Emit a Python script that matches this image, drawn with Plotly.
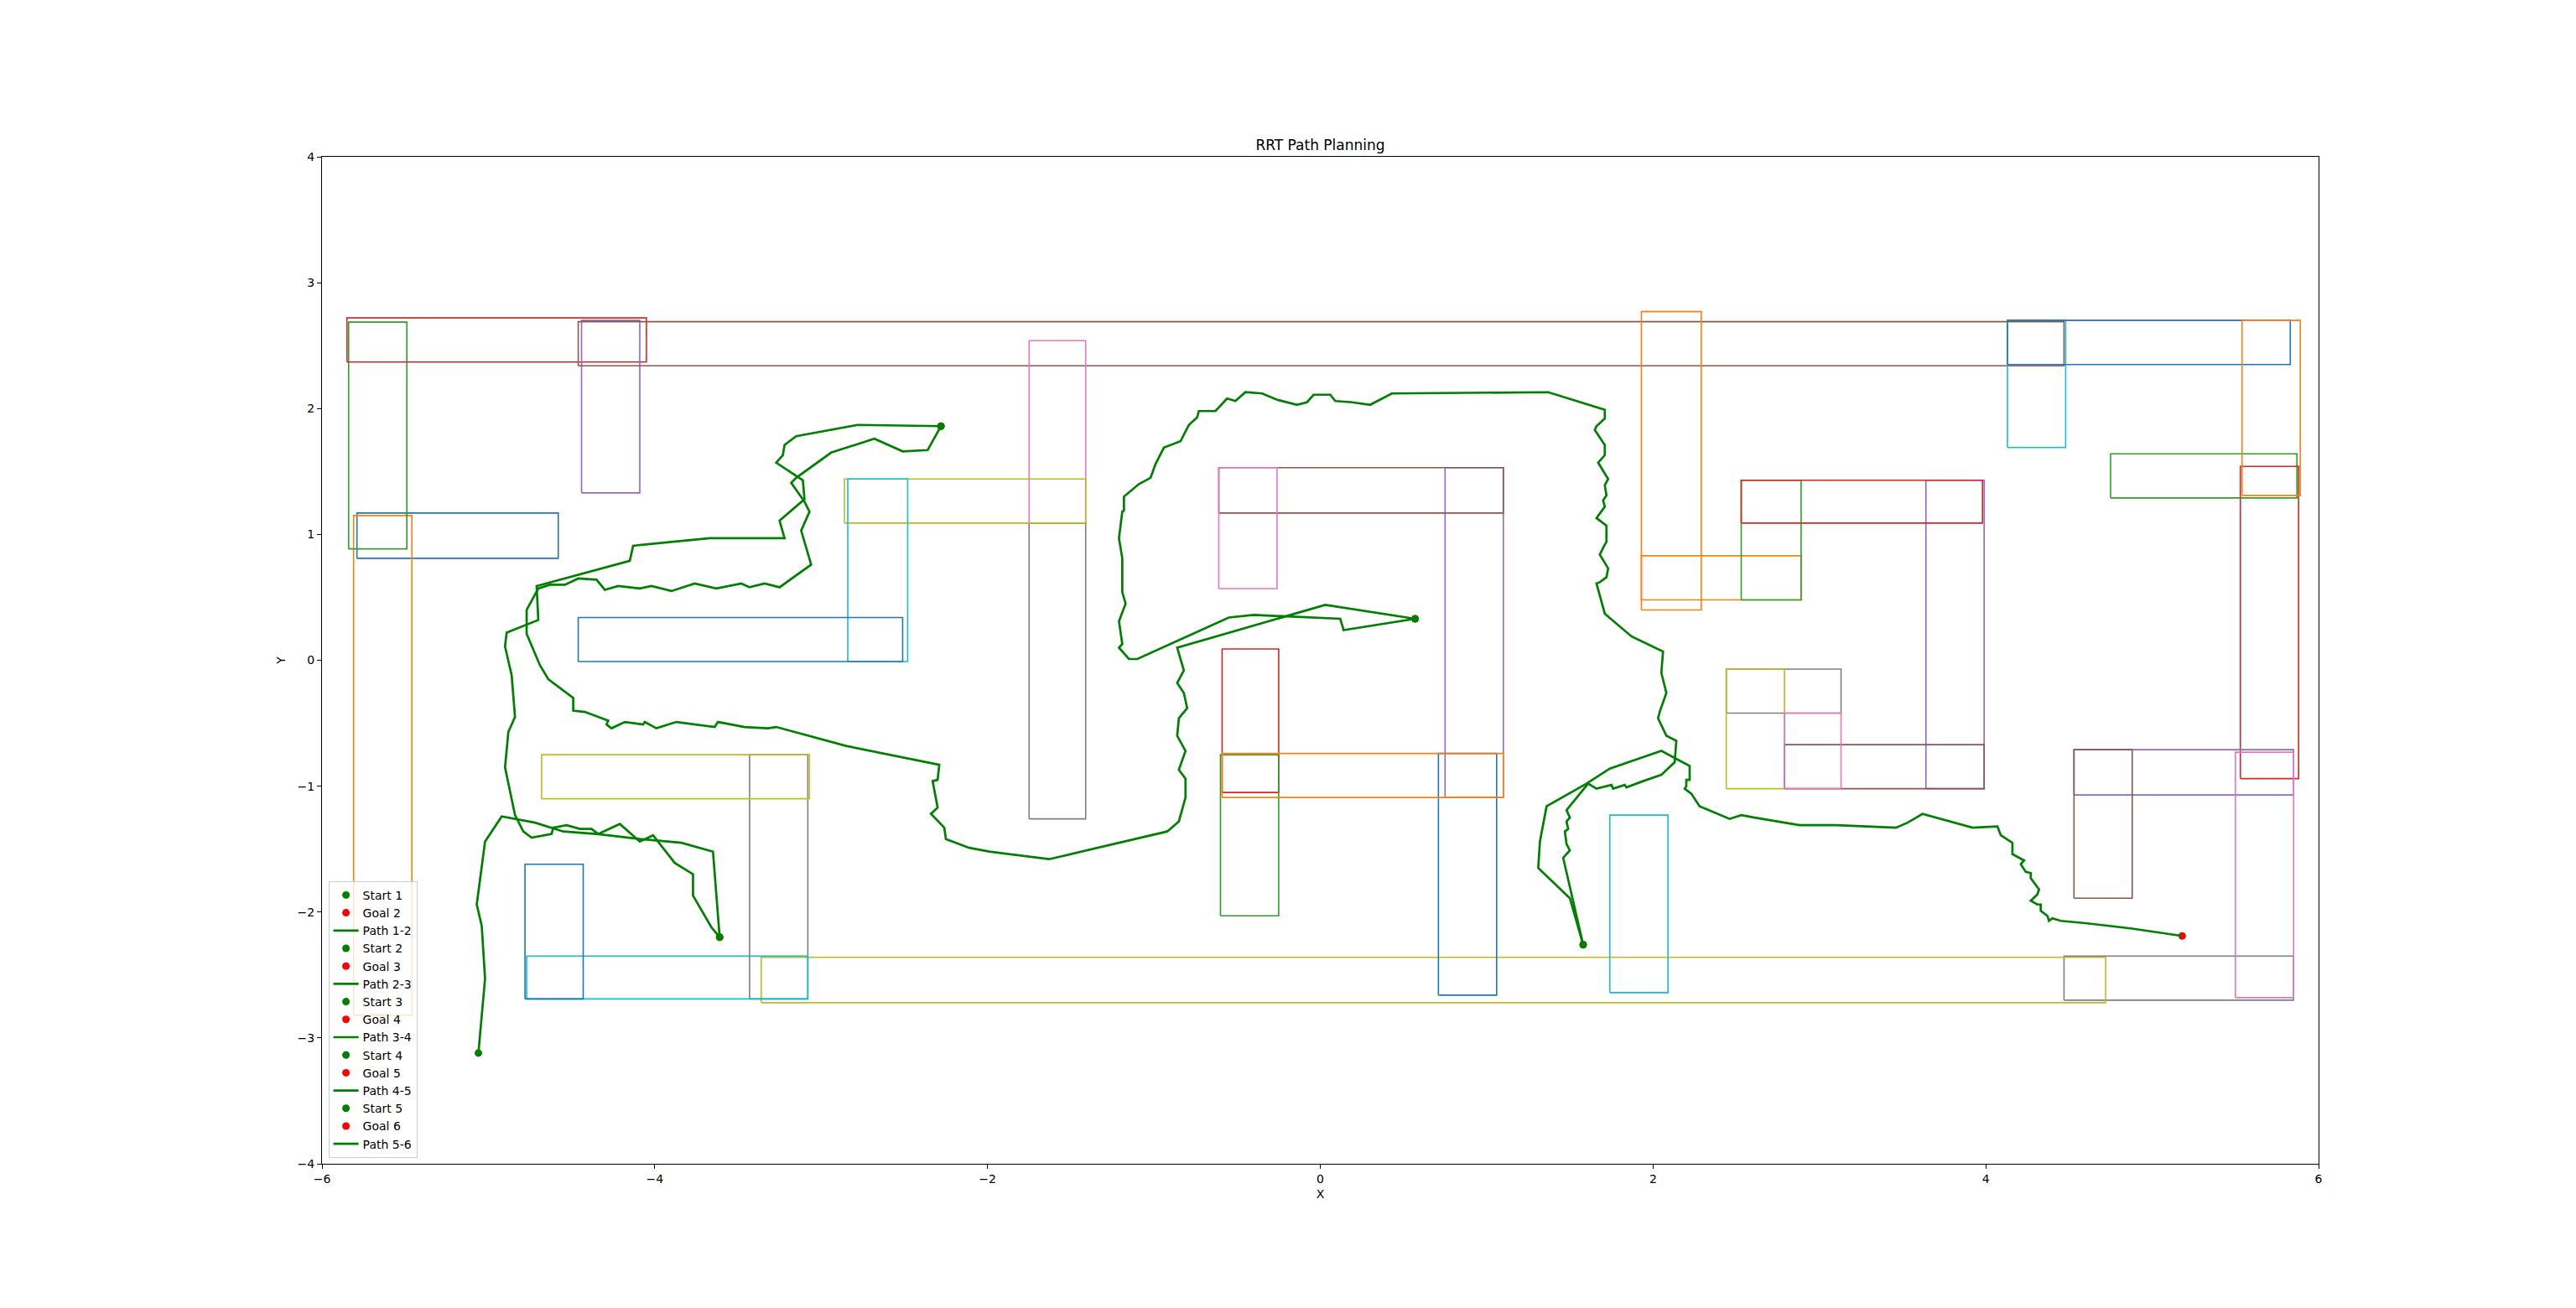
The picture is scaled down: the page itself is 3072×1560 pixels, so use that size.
import plotly.graph_objects as go

# ---------------- data ----------------
# obstacles (axis-aligned rectangles), listed in drawing order
obs_x0 = [-5.79, -5.81, -5.84, -5.85, -4.44, -4.46, -1.75, -1.75, -2.86, -2.84,
          -4.46, 1.93, 4.75, -0.59, 0.75, -0.61, -0.61, 2.44, 2.44, 4.13,
          4.13, 1.93, 2.53, 5.53, 3.64, 2.79, 2.79, 4.47, -3.36, 1.74,
          0.71, 5.54, -0.60, 2.53, 4.53, 4.53, 5.50, -3.43, -4.68, -4.77,
          -4.78, -0.59]
obs_x1 = [-4.58, -5.46, -5.49, -4.05, -4.09, 4.47, -1.41, -1.41, -1.41, -2.48,
          -2.51, 2.29, 5.87, -0.25, 1.10, 1.10, -0.26, 3.13, 2.79, 4.48,
          5.83, 2.89, 2.89, 5.88, 3.99, 3.99, 3.13, 5.85, 4.72, 2.09,
          1.06, 5.89, -0.25, 3.98, 5.85, 4.88, 5.85, -3.08, -3.07, -3.08,
          -4.43, 1.10]
obs_y0 = [0.81, -2.82, 0.885, 2.37, 1.33, 2.34, 1.09, -1.26, 1.09, -0.01,
          -0.01, 0.40, 1.29, -1.05, -1.09, 1.17, 0.57, -0.42, -1.02, 1.69,
          2.35, 0.48, 0.48, -0.94, -1.02, -1.02, -1.02, -2.70, -2.72, -2.64,
          -2.66, 1.31, -2.03, 1.09, -1.07, -1.89, -2.68, -2.69, -1.10, -2.69,
          -2.69, -1.09]
obs_y1 = [1.17, 1.15, 2.687, 2.72, 2.70, 2.69, 2.54, 1.09, 1.44, 1.44,
          0.34, 2.77, 1.64, 0.09, 1.53, 1.53, 1.53, -0.07, -0.07, 2.70,
          2.70, 0.83, 1.43, 1.54, 1.43, -0.67, -0.42, -2.35, -2.36, -1.23,
          -0.74, 2.70, -0.75, 1.43, -0.71, -0.71, -0.73, -0.75, -0.75, -2.35,
          -1.62, -0.74]

# waypoints: Start i / Goal i at P_i
wp_x = [-5.06, -3.61, -2.28, 0.57, 1.58, 5.18]
wp_y = [-3.12, -2.20, 1.86, 0.33, -2.26, -2.19]

path_1_2 = [(-5.06, -3.12), (-5.02, -2.53), (-5.04, -2.11), (-5.07, -1.94), (-5.02, -1.44),
            (-4.92, -1.24), (-4.72, -1.29), (-4.55, -1.36), (-4.35, -1.38), (-4.09, -1.42),
            (-3.84, -1.45), (-3.65, -1.52), (-3.61, -2.20)]

path_2_3 = [(-3.61, -2.20), (-3.66, -2.12), (-3.77, -1.87), (-3.77, -1.70), (-3.88, -1.61),
            (-4.01, -1.39), (-4.09, -1.44), (-4.21, -1.30), (-4.34, -1.38), (-4.38, -1.34),
            (-4.45, -1.34), (-4.53, -1.31), (-4.61, -1.33), (-4.62, -1.38), (-4.74, -1.41),
            (-4.79, -1.36), (-4.84, -1.23), (-4.90, -0.85), (-4.88, -0.57), (-4.84, -0.45),
            (-4.86, -0.12), (-4.90, 0.11), (-4.89, 0.22), (-4.70, 0.32), (-4.71, 0.59),
            (-4.15, 0.79), (-4.13, 0.91), (-3.67, 0.97), (-3.40, 0.97), (-3.22, 0.97),
            (-3.25, 1.11), (-3.10, 1.28), (-3.11, 1.43), (-3.27, 1.57), (-3.23, 1.63),
            (-3.22, 1.71), (-3.15, 1.78), (-2.78, 1.87), (-2.28, 1.86)]

path_3_4 = [(-2.28, 1.86), (-2.36, 1.67), (-2.51, 1.66), (-2.68, 1.76), (-2.94, 1.65),
            (-3.15, 1.45), (-3.18, 1.41), (-3.10, 1.26), (-3.07, 1.18), (-3.12, 1.03),
            (-3.06, 0.76), (-3.25, 0.58), (-3.34, 0.61), (-3.43, 0.58), (-3.48, 0.61),
            (-3.63, 0.57), (-3.76, 0.61), (-3.90, 0.55), (-4.02, 0.59), (-4.09, 0.57),
            (-4.22, 0.59), (-4.30, 0.56), (-4.35, 0.64), (-4.46, 0.65), (-4.54, 0.60),
            (-4.63, 0.60), (-4.70, 0.57), (-4.77, 0.40), (-4.77, 0.21), (-4.69, -0.04),
            (-4.64, -0.15), (-4.49, -0.30), (-4.49, -0.40), (-4.42, -0.41), (-4.28, -0.48),
            (-4.29, -0.51), (-4.26, -0.54), (-4.18, -0.49), (-4.07, -0.51), (-4.06, -0.49),
            (-3.99, -0.54), (-3.87, -0.49), (-3.64, -0.53), (-3.62, -0.49), (-3.46, -0.53),
            (-3.32, -0.54), (-3.27, -0.53), (-2.85, -0.68), (-2.29, -0.83), (-2.30, -0.95),
            (-2.33, -0.96), (-2.30, -1.17), (-2.34, -1.22), (-2.26, -1.33), (-2.25, -1.42),
            (-2.11, -1.49), (-1.99, -1.52), (-1.87, -1.54), (-1.63, -1.58), (-0.92, -1.36),
            (-0.85, -1.28), (-0.81, -1.09), (-0.81, -0.94), (-0.85, -0.87), (-0.81, -0.72),
            (-0.86, -0.60), (-0.85, -0.46), (-0.80, -0.38), (-0.82, -0.26), (-0.86, -0.18),
            (-0.82, -0.08), (-0.86, 0.10), (0.03, 0.44), (0.57, 0.33)]

path_4_5 = [(0.57, 0.33), (0.14, 0.24), (0.12, 0.33), (-0.40, 0.36), (-0.55, 0.34),
            (-1.10, 0.01), (-1.15, 0.01), (-1.21, 0.10), (-1.19, 0.13), (-1.21, 0.31),
            (-1.17, 0.45), (-1.19, 0.54), (-1.19, 0.81), (-1.21, 0.97), (-1.19, 1.18),
            (-1.18, 1.19), (-1.18, 1.30), (-1.09, 1.40), (-1.02, 1.45), (-0.99, 1.56),
            (-0.94, 1.69), (-0.84, 1.74), (-0.79, 1.87), (-0.74, 1.93), (-0.73, 1.98),
            (-0.63, 1.98), (-0.56, 2.08), (-0.51, 2.06), (-0.45, 2.13), (-0.35, 2.12),
            (-0.26, 2.07), (-0.14, 2.03), (-0.08, 2.05), (-0.04, 2.11), (0.06, 2.11),
            (0.09, 2.06), (0.19, 2.05), (0.30, 2.03), (0.43, 2.12), (1.37, 2.13),
            (1.71, 1.99), (1.71, 1.92), (1.66, 1.86), (1.65, 1.83), (1.71, 1.71),
            (1.71, 1.63), (1.67, 1.57), (1.73, 1.44), (1.71, 1.39), (1.72, 1.31),
            (1.70, 1.27), (1.71, 1.22), (1.66, 1.13), (1.72, 1.07), (1.72, 0.94),
            (1.71, 0.92), (1.68, 0.84), (1.73, 0.73), (1.72, 0.66), (1.68, 0.62),
            (1.66, 0.61), (1.68, 0.52), (1.71, 0.37), (1.87, 0.19), (2.06, 0.07),
            (2.05, -0.10), (2.08, -0.26), (2.04, -0.41), (2.03, -0.46), (2.08, -0.60),
            (2.14, -0.64), (2.13, -0.81), (2.05, -0.91), (1.94, -0.96), (1.84, -1.01),
            (1.83, -0.99), (1.76, -1.02), (1.75, -0.99), (1.66, -1.02), (1.61, -0.98),
            (1.48, -1.19), (1.50, -1.25), (1.48, -1.28), (1.49, -1.34), (1.47, -1.36),
            (1.48, -1.46), (1.50, -1.51), (1.46, -1.57), (1.58, -2.26)]

path_5_6 = [(1.58, -2.26), (1.50, -1.89), (1.31, -1.65), (1.32, -1.44), (1.36, -1.16),
            (1.60, -0.98), (1.74, -0.86), (2.05, -0.72), (2.22, -0.84), (2.22, -0.95),
            (2.20, -0.95), (2.20, -1.00), (2.19, -1.02), (2.23, -1.06), (2.28, -1.16),
            (2.46, -1.26), (2.53, -1.23), (2.61, -1.25), (2.88, -1.31), (3.10, -1.31),
            (3.46, -1.33), (3.53, -1.29), (3.62, -1.22), (3.92, -1.33), (4.07, -1.32),
            (4.09, -1.39), (4.16, -1.45), (4.16, -1.54), (4.23, -1.59), (4.21, -1.62),
            (4.24, -1.68), (4.27, -1.69), (4.27, -1.73), (4.32, -1.82), (4.31, -1.86),
            (4.27, -1.91), (4.31, -1.94), (4.33, -1.94), (4.33, -1.99), (4.37, -2.03),
            (4.38, -2.07), (4.40, -2.05), (4.45, -2.07), (4.61, -2.09), (4.87, -2.13),
            (5.18, -2.19)]

paths = [path_1_2, path_2_3, path_3_4, path_4_5, path_5_6]
path_labels = ["Path 1-2", "Path 2-3", "Path 3-4", "Path 4-5", "Path 5-6"]
x_ticks = [-6, -4, -2, 0, 2, 4, 6]
y_ticks = [-4, -3, -2, -1, 0, 1, 2, 3, 4]

# ---------------- styles ----------------
TAB10 = ["#1f77b4", "#ff7f0e", "#2ca02c", "#d62728", "#9467bd",
         "#8c564b", "#e377c2", "#7f7f7f", "#bcbd22", "#17becf"]
GREEN = "#008000"
RED = "#ff0000"
FONT = "DejaVu Sans"

fig = go.Figure()

for i in range(len(obs_x0)):
    x0, x1, y0, y1 = obs_x0[i], obs_x1[i], obs_y0[i], obs_y1[i]
    fig.add_trace(go.Scatter(
        x=[x0, x1, x1, x0, x0], y=[y0, y0, y1, y1, y0],
        mode="lines", line=dict(color=TAB10[i % 10], width=1.6),
        showlegend=False, hoverinfo="skip"))

for k in range(5):
    fig.add_trace(go.Scatter(
        x=[wp_x[k]], y=[wp_y[k]], mode="markers", name=f"Start {k + 1}",
        marker=dict(color=GREEN, size=9, line=dict(width=0))))
    fig.add_trace(go.Scatter(
        x=[wp_x[k + 1]], y=[wp_y[k + 1]], mode="markers", name=f"Goal {k + 2}",
        marker=dict(color=RED, size=9, line=dict(width=0))))
    px = [p[0] for p in paths[k]]
    py = [p[1] for p in paths[k]]
    fig.add_trace(go.Scatter(
        x=px, y=py, mode="lines", name=path_labels[k],
        line=dict(color=GREEN, width=2.7)))

W, H = 3072, 1560
L, R, T, B = 384, 307, 187, 172

axis_common = dict(
    showline=True, linecolor="black", linewidth=1.1, mirror=True,
    ticks="outside", ticklen=5, tickwidth=1.1, tickcolor="black",
    showgrid=False, zeroline=False,
    tickfont=dict(family=FONT, size=14, color="black"),
    automargin=False,
)

fig.update_layout(
    width=W, height=H,
    margin=dict(l=L, r=R, t=T, b=B, pad=0),
    paper_bgcolor="white", plot_bgcolor="white",
    font=dict(family=FONT, size=14, color="black"),
    hovermode=False,
    title=dict(text="RRT Path Planning", x=0.5, xref="paper", xanchor="center",
               y=1 - 173 / H, yref="container", yanchor="middle",
               font=dict(family=FONT, size=17, color="black")),
    xaxis=dict(range=[-6, 6], tickvals=x_ticks, **axis_common,
               title=dict(text="X", standoff=6, font=dict(family=FONT, size=14, color="black"))),
    yaxis=dict(range=[-4, 4], tickvals=y_ticks, **axis_common,
               title=dict(text="Y", standoff=10, font=dict(family=FONT, size=14, color="black"))),
    legend=dict(x=0.0032, y=0.006, xanchor="left", yanchor="bottom",
                bgcolor="rgba(255,255,255,0.8)", bordercolor="#cccccc", borderwidth=1,
                font=dict(family=FONT, size=14, color="black"),
                traceorder="normal", tracegroupgap=0),
)

fig.write_html("out.html")
